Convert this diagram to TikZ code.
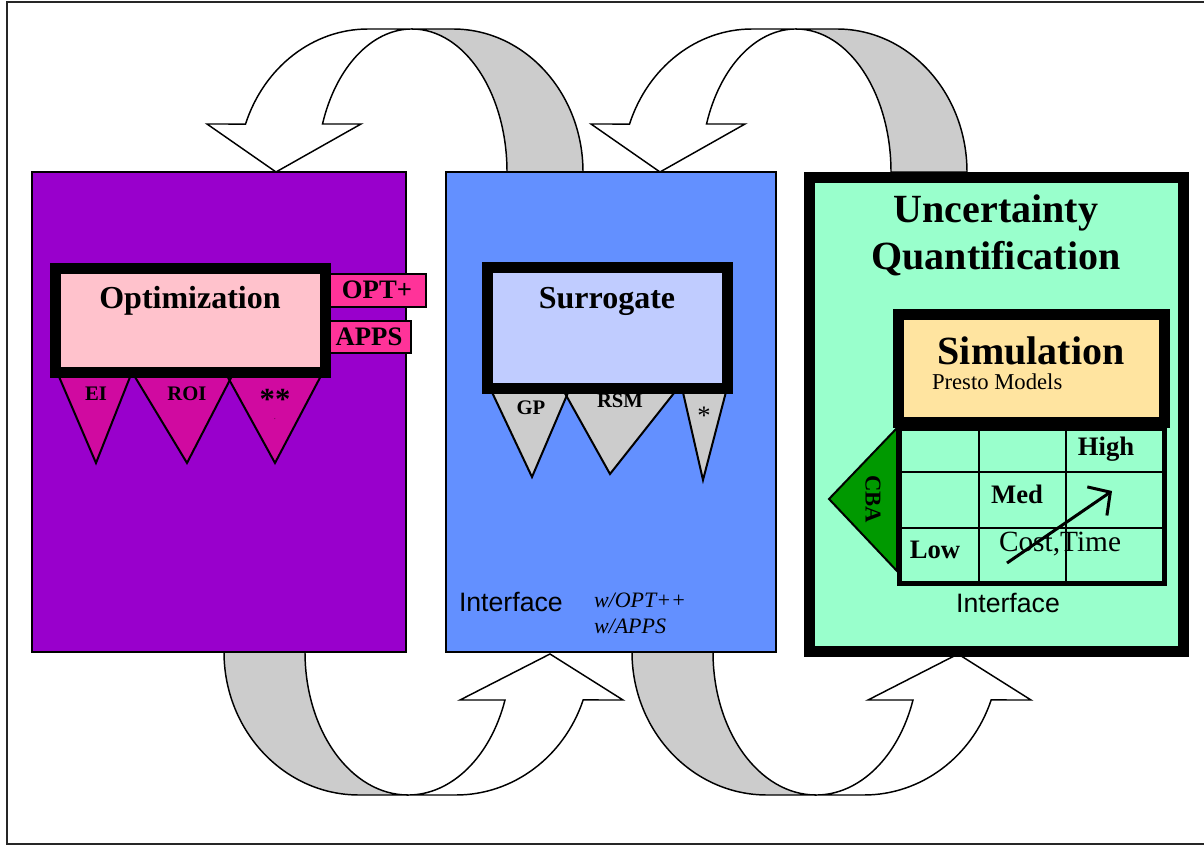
\documentclass[tikz,border=0pt]{standalone}
\usepackage{fontspec}
\setmainfont{Liberation Serif}
\setsansfont{Liberation Sans}
\usetikzlibrary{arrows.meta}

\definecolor{optpurple}{RGB}{153,0,204}
\definecolor{surblue}{RGB}{99,144,255}
\definecolor{uqgreen}{RGB}{153,255,204}
\definecolor{optpink}{RGB}{255,194,204}
\definecolor{tabpink}{RGB}{255,51,153}
\definecolor{trimag}{RGB}{208,10,160}
\definecolor{surlav}{RGB}{192,204,255}
\definecolor{arrowgray}{RGB}{204,204,204}
\definecolor{simorange}{RGB}{255,228,160}
\definecolor{cbagreen}{RGB}{0,153,0}

\newcommand\TopArrow{%
 \filldraw[arrback] (583,172) arc[start angle=0,end angle=-90,x radius=130,y radius=143] -- (412,29) arc[start angle=-90,end angle=0,x radius=95,y radius=143] -- cycle;
 \filldraw[arrfront] (412,29) -- (368,29) arc[start angle=-90,end angle=-160.4,x radius=130,y radius=143] -- (207,124) -- (276,172) -- (361,124) -- (322.5,124) arc[start angle=-160.4,end angle=-90,x radius=95,y radius=143] -- cycle;
}
\newcommand\BotArrow{%
 \filldraw[arrback] (224,652) arc[start angle=180,end angle=90,x radius=135,y radius=143] -- (408,795) arc[start angle=90,end angle=180,x radius=103,y radius=143] -- cycle;
 \filldraw[arrfront] (408,795) -- (456,795) arc[start angle=90,end angle=19.6,x radius=135,y radius=143] -- (623,700) -- (550,654) -- (460,700) -- (505,700) arc[start angle=19.6,end angle=90,x radius=103,y radius=143] -- cycle;
}

\begin{document}
\begin{tikzpicture}[x=0.75pt,y=-0.75pt,
  every node/.style={inner sep=0pt, outer sep=0pt},
  arrback/.style={fill=arrowgray, draw=black, line width=1.1pt, line join=round},
  arrfront/.style={fill=white, draw=black, line width=1.1pt, line join=miter},
  thinbox/.style={draw=black, line width=1.5pt},
  thickbox/.style={draw=black, line width=8.25pt},
  tri/.style={draw=black, line width=1.5pt, line join=miter},
  titlefont/.style={font=\fontsize{24}{28}\selectfont\bfseries},
  bigfont/.style={font=\fontsize{30}{34}\selectfont\bfseries},
  tabfont/.style={font=\fontsize{20}{24}\selectfont\bfseries},
  trifont/.style={font=\fontsize{15.5}{18}\selectfont\bfseries},
  gridfont/.style={font=\fontsize{20}{24}\selectfont\bfseries},
  iffont/.style={font=\sffamily\fontsize{20}{24}\selectfont},
  wfont/.style={font=\itshape\fontsize{16.5}{20}\selectfont}]
\useasboundingbox (0,0) rectangle (1204,845);

% outer frame
\draw[line width=1.5pt, black!85] (1204,2.5) -- (6.5,2.5) -- (6.5,843.5) -- (1204,843.5);

% curved block arrows
\TopArrow
\begin{scope}[xshift=288pt]\TopArrow\end{scope}
\BotArrow
\begin{scope}[xshift=306pt]\BotArrow\end{scope}

% main boxes
\filldraw[thinbox, fill=optpurple] (32,172) rectangle (406,652);
\filldraw[thinbox, fill=surblue] (446,172) rectangle (776,652);
\filldraw[thickbox, fill=uqgreen] (809.5,177.5) rectangle (1183.5,651.5);

% ---- Optimization ----
\filldraw[thinbox, fill=tabpink] (328,274) rectangle (426,307);
\filldraw[thinbox, fill=tabpink] (328,321) rectangle (411,353);
\fill[trimag] (57,372) -- (132,372) -- (96,463) -- cycle;
\fill[trimag] (132,372) -- (234,372) -- (187,463) -- cycle;
\fill[trimag] (225,372) -- (323,372) -- (275,463) -- cycle;
\draw[tri] (57,372) -- (96,463) -- (132,372);
\draw[tri] (132,372) -- (187,463) -- (234,372);
\draw[tri] (225,372) -- (275,463) -- (323,372);
\filldraw[thickbox, fill=optpink] (55.5,268.5) rectangle (325.5,372.5);
\node[titlefont, anchor=base] (opt) at (190,308) {Optimization};
\node[tabfont, anchor=base] (optp) at (377,299) {OPT+};
\node[tabfont, anchor=base] (apps) at (369,345) {APPS};
\node[trifont, anchor=base] (ei) at (96,400) {EI};
\node[trifont, anchor=base] (roi) at (187,400) {ROI};
\node[font=\fontsize{23}{26}\selectfont\bfseries, anchor=base] (ss) at (275,409) {**};
\node[font=\fontsize{5}{6}\selectfont, anchor=base] (dot) at (275,419) {.};

% ---- Surrogate ----
\fill[arrowgray] (490,388) -- (570,388) -- (532,477) -- cycle;
\fill[arrowgray] (562,388) -- (678,388) -- (610,474) -- cycle;
\fill[arrowgray] (682,388) -- (727,388) -- (703,480) -- cycle;
\draw[tri] (490,388) -- (532,477) -- (570,388);
\draw[tri] (562,388) -- (610,474) -- (678,388);
\draw[tri] (682,388) -- (703,480) -- (727,388);
\filldraw[thickbox, fill=surlav] (487.5,267.5) rectangle (727.5,388);
\node[titlefont, anchor=base] (sur) at (607,308) {Surrogate};
\node[trifont, anchor=base] (gp) at (531,414) {GP};
\node[trifont, anchor=base] (rsm) at (620,407) {RSM};
\node[font=\fontsize{20}{22}\selectfont, anchor=base] (st) at (704,424) {*};
\node[iffont, anchor=base west] (if1) at (459,611) {Interface};
\node[wfont, anchor=base west] (w1) at (594,607) {w/OPT++};
\node[wfont, anchor=base west] (w2) at (594,633) {w/APPS};

% ---- Uncertainty Quantification ----
\node[bigfont, anchor=base] (unc) at (996,223) {Uncertainty};
\node[bigfont, anchor=base] (quant) at (996,270) {Quantification};
\filldraw[tri, fill=cbagreen] (897,428) -- (829,499) -- (897,571) -- cycle;
\node[font=\fontsize{17}{20}\selectfont\bfseries, rotate=-90] (cba) at (873,499) {CBA};
\filldraw[draw=black, line width=3.75pt, fill=uqgreen] (899,428) rectangle (1164.5,583.5);
\draw[line width=1.9pt] (979,428) -- (979,583) (1066,428) -- (1066,583)
  (899,472) -- (1164,472) (899,528) -- (1164,528);
\filldraw[thickbox, fill=simorange] (898.5,314.5) rectangle (1164,422.5);
\node[bigfont, anchor=base] (sim) at (1031,364) {Simulation};
\node[font=\fontsize{17}{20}\selectfont, anchor=base west] (presto) at (932,389) {Presto Models};
\node[gridfont, anchor=base] (high) at (1106,455) {High};
\node[gridfont, anchor=base] (med) at (1017,503) {Med};
\node[gridfont, anchor=base] (low) at (935,558) {Low};
\node[font=\fontsize{22}{26}\selectfont, anchor=base] (ct) at (1060,551) {Cost,Time};
\coordinate (ctS) at (1007,563);
\coordinate (ctE) at (1112,491);
\draw[line width=2.25pt, -{Straight Barb[length=12pt,width=26pt,line width=2.25pt]}] (ctS) -- (ctE);
\node[iffont, anchor=base] (if2) at (1008,612) {Interface};
\end{tikzpicture}
\end{document}
